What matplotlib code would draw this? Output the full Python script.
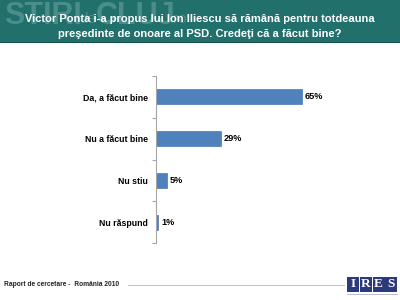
import matplotlib
matplotlib.use("Agg")
import matplotlib.pyplot as plt
from matplotlib.patches import Rectangle

categories = ["Da, a făcut bine", "Nu a făcut bine", "Nu stiu", "Nu răspund"]
values = [65, 29, 5, 1]
value_labels = ["65%", "29%", "5%", "1%"]
title_lines = ["Victor Ponta i-a propus lui Ion Iliescu să rămână pentru totdeauna",
               "preşedinte de onoare al PSD. Credeţi că a făcut bine?"]
footer_text = "Raport de cercetare -  România 2010"
logo_letters = ["I", "R", "E", "S"]

plt.rcParams['font.family'] = ['Liberation Sans', 'DejaVu Sans']

fig = plt.figure(figsize=(4, 3), dpi=100)
fig.patch.set_facecolor('white')

W, H = 400, 300
def fx(x): return x / W
def fy(y): return 1 - y / H

# Header band
fig.patches.append(Rectangle((0, fy(42)), 1, 42 / H, transform=fig.transFigure,
                             facecolor='#21706c', edgecolor='none', zorder=0))
fig.patches.append(Rectangle((0, fy(43)), 1, 1.5 / H, transform=fig.transFigure,
                             facecolor='#15524f', edgecolor='none', zorder=0))
# watermark
wm = '#4a8d89'
fig.text(fx(4), fy(16), "STIRI", color=wm, fontsize=22, fontweight='bold',
         ha='left', va='center', zorder=1)
fig.text(fx(79), fy(19), "de", color=wm, fontsize=11, ha='left', va='center', zorder=1)
fig.text(fx(96), fy(16), "CLUJ", color=wm, fontsize=22, fontweight='bold',
         ha='left', va='center', zorder=1)
fig.text(fx(170), fy(19), ".ro", color=wm, fontsize=11, ha='left', va='center', zorder=1)

fig.text(0.5, fy(19), title_lines[0], color='white', fontsize=8, fontweight='bold',
         ha='center', va='center', zorder=2)
fig.text(0.5, fy(34), title_lines[1], color='white', fontsize=8, fontweight='bold',
         ha='center', va='center', zorder=2)

# Main axes
left, right = 156, 381
top, bottom = 76, 243
ax = fig.add_axes([fx(left), fy(bottom), (right - left) / W, (bottom - top) / H])
ax.set_facecolor('none')
ypos = list(range(len(categories)))
ax.barh(ypos, values, height=0.36, color='#4f81bd', edgecolor='#4a78b0', linewidth=0.5)
ax.set_xlim(0, 100)
ax.set_ylim(len(categories) - 0.5, -0.5)
for s in ['top', 'right', 'bottom']:
    ax.spines[s].set_visible(False)
ax.spines['left'].set_color('#a6a6a6')
ax.spines['left'].set_linewidth(0.8)
ax.set_xticks([])
ax.set_yticks(ypos)
ax.set_yticklabels(categories, fontsize=6.3, fontweight='bold')
ax.tick_params(axis='y', which='major', length=0, pad=6)
ax.set_yticks([i - 0.5 for i in range(len(categories) + 1)], minor=True)
ax.tick_params(axis='y', which='minor', length=3, color='#a6a6a6', width=0.8)
for y, v, lab in zip(ypos, values, value_labels):
    ax.text(v + 1.2, y, lab, fontsize=6.6, fontweight='bold', ha='left', va='center')

# Footer
fig.text(fx(4), fy(285), footer_text, fontsize=4.8, fontweight='bold', ha='left', va='center',
         color='#222222')
fig.lines.append(plt.Line2D([fx(128), fx(344)], [fy(285), fy(285)], transform=fig.transFigure,
                            color='#c8c8c8', linewidth=0.8))
sq = 12.0
x0 = 347
for i, letter in enumerate(logo_letters):
    xs = x0 + i * (sq + 0.8)
    fig.patches.append(Rectangle((fx(xs), fy(291.5)), sq / W, 15 / H, transform=fig.transFigure,
                                 facecolor='#2a3a7a', edgecolor='none'))
    fig.text(fx(xs + sq / 2), fy(284), letter, color='white', fontsize=9.5, fontweight='bold',
             family=['Liberation Serif', 'DejaVu Serif'], ha='center', va='center')
fig.lines.append(plt.Line2D([fx(347), fx(397)], [fy(294), fy(294)], transform=fig.transFigure,
                            color='#b0b0c0', linewidth=0.6))

fig.savefig('out.png', dpi=100)
